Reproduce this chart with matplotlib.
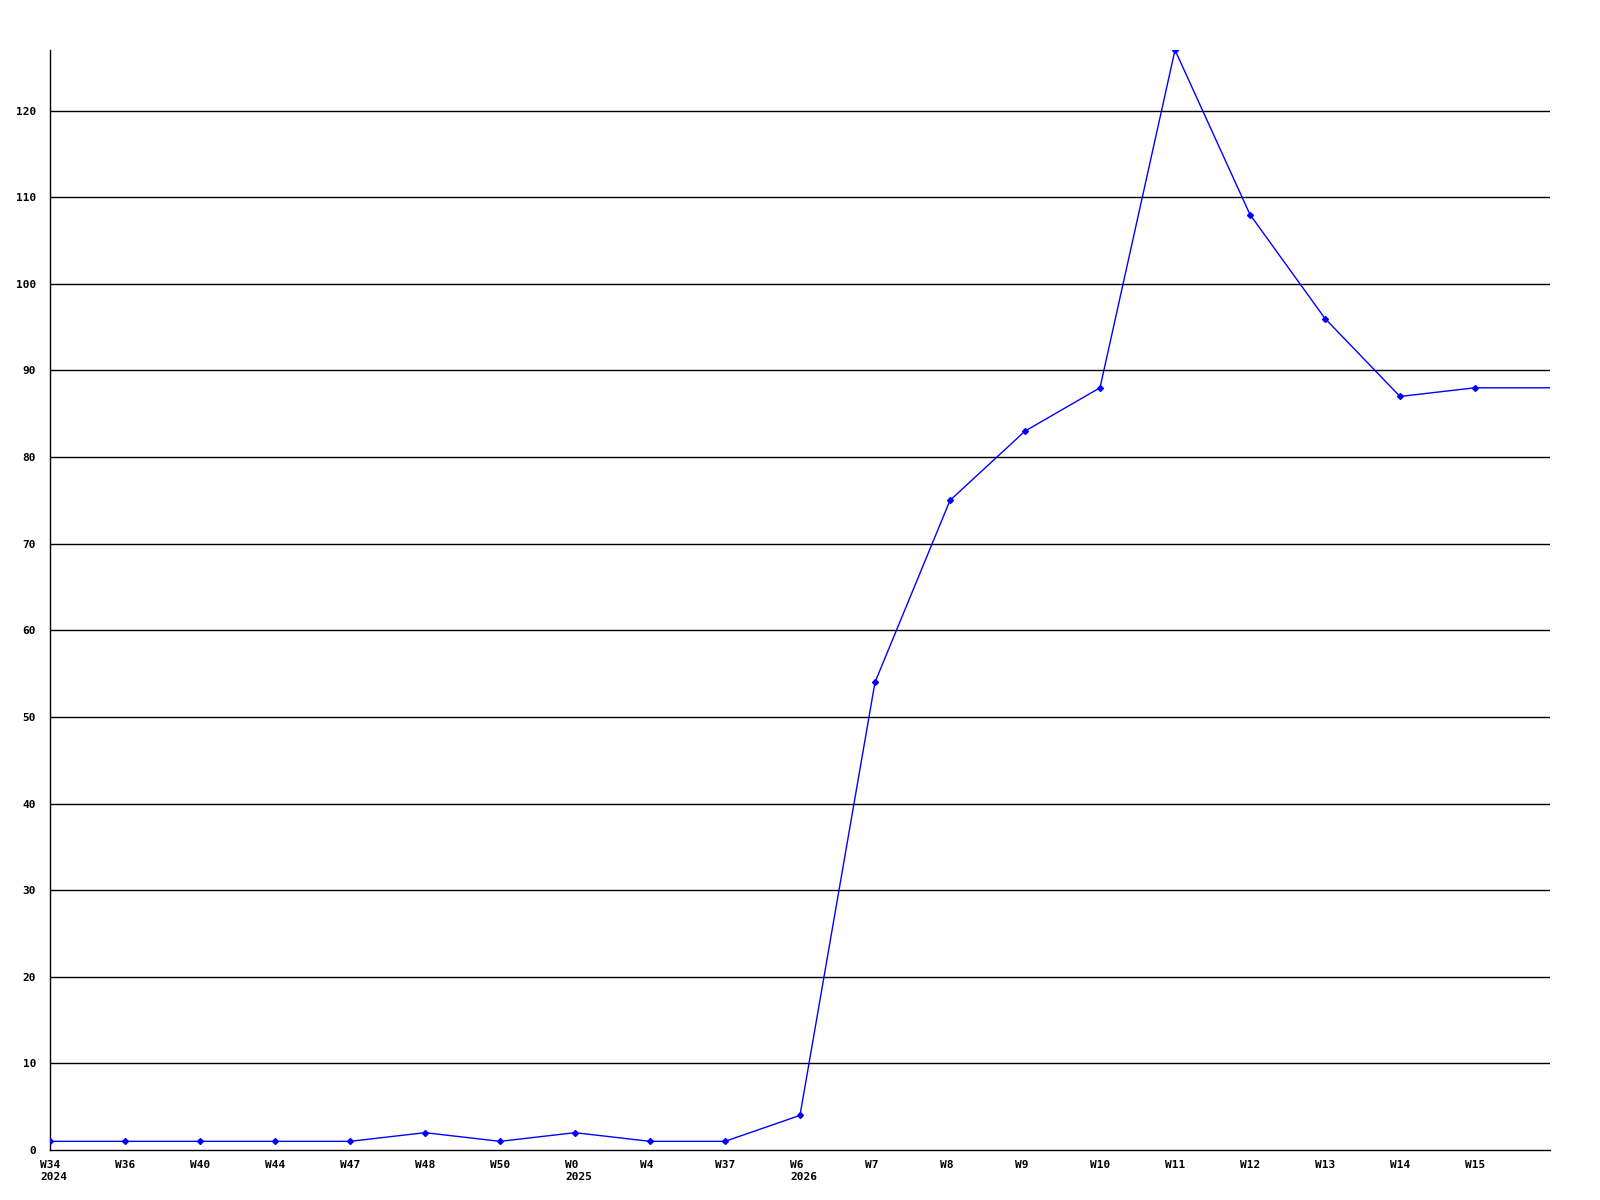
import matplotlib
matplotlib.use("Agg")
import matplotlib.pyplot as plt
import matplotlib.transforms as mtrans

week_labels = ["W34", "W36", "W40", "W44", "W47", "W48", "W50", "W0", "W4", "W37",
               "W6", "W7", "W8", "W9", "W10", "W11", "W12", "W13", "W14", "W15"]
values = [1, 1, 1, 1, 1, 2, 1, 2, 1, 1, 4, 54, 75, 83, 88, 127, 108, 96, 87, 88]
tail_value = 88  # line continues flat to the right edge
year_labels = {"W34": "2024", "W0": "2025", "W6": "2026"}
y_ticks = list(range(0, 130, 10))

fig = plt.figure(figsize=(16, 12), dpi=100)
ax = fig.add_axes([50/1600, 50/1200, 1500/1600, 1100/1200])

xs = list(range(len(values)))
ax.plot(xs + [len(values)], values + [tail_value], color="#0000ff", lw=1.0, zorder=3)
ax.plot(xs, values, ls="none", marker="D", ms=3, color="#0000ff", zorder=4)

ax.set_xlim(0, len(values))
ax.set_ylim(0, 127)

font = dict(family="DejaVu Sans Mono", weight="bold", size=8)
ax.set_yticks(y_ticks)
ax.set_yticklabels([str(v) for v in y_ticks], **font)
ax.set_xticks(xs)
ax.set_xticklabels(week_labels, ha="left", **font)
ax.tick_params(axis="both", length=0)
ax.tick_params(axis="y", pad=10)
ax.tick_params(axis="x", pad=7)

shift = mtrans.ScaledTranslation(-10/100, 0, fig.dpi_scale_trans)
for lbl in ax.get_xticklabels():
    lbl.set_transform(lbl.get_transform() + shift)

for v in y_ticks[1:]:
    ax.axhline(v, color="black", lw=1, zorder=1)

for spine in ["top", "right"]:
    ax.spines[spine].set_visible(False)
for spine in ["left", "bottom"]:
    ax.spines[spine].set_color("black")
    ax.spines[spine].set_linewidth(1)

for i, lab in enumerate(week_labels):
    if lab in year_labels:
        ax.annotate(year_labels[lab], xy=(i, 0), xycoords=("data", "axes fraction"),
                    xytext=(-10, -22), textcoords="offset pixels",
                    ha="left", va="top", **font)

fig.savefig("out.png", dpi=100, facecolor="white")
